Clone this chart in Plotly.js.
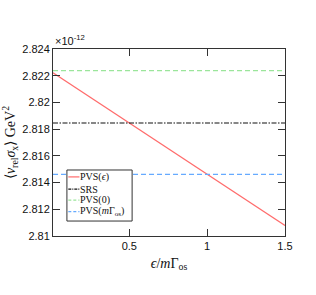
<!DOCTYPE html>
<html>
<head>
<meta charset="utf-8">
<script src="https://cdn.plot.ly/plotly-3.0.1.min.js"></script>
<style>html,body{margin:0;padding:0;background:#fff;}#chart{width:316px;height:295px;}</style>
</head>
<body>
<div id="chart"></div>
<script>
// values in units of 1e-12 GeV^-2 (axis multiplier shown as ×10^-12)
const xPVSeps = [0.01, 0.5, 1.0, 1.5];
const yPVSeps = [2.82222, 2.81846, 2.81462, 2.81078];
const xFlat = [0.01, 1.5];
const ySRS = [2.81846, 2.81846];
const yPVS0 = [2.82238, 2.82238];
const yPVSmG = [2.81462, 2.81462];
const seriesNames = ['PVS(<i>ϵ</i>)', 'SRS', 'PVS(0)', 'PVS(<i>m</i>Γ<sub>os</sub>)'];
const seriesColors = ['#ff6b6b', '#111111', '#9be59b', '#66aaff'];
const seriesDash = ['solid', '5px,1.5px,1.5px,1.5px', '5px,3px', '5px,3px'];
const yTickVals = [2.81, 2.812, 2.814, 2.816, 2.818, 2.82, 2.822, 2.824];
const yTickText = ['2.81', '2.812', '2.814', '2.816', '2.818', '2.82', '2.822', '2.824'];
const xTickVals = [0.5, 1, 1.5];
const xTickText = ['0.5', '1', '1.5'];

const xs = [xPVSeps, xFlat, xFlat, xFlat];
const ys = [yPVSeps, ySRS, yPVS0, yPVSmG];
const traces = ys.map((y, i) => ({
  x: xs[i], y: y, name: seriesNames[i], mode: 'lines',
  line: {color: seriesColors[i], width: 1.2, dash: seriesDash[i]}
}));

const axisCommon = {
  showgrid: false, zeroline: false, showline: true, linecolor: '#333', linewidth: 1,
  mirror: 'ticks', ticks: 'inside', ticklen: 7, tickcolor: '#333', tickwidth: 1,
  tickfont: {family: 'Liberation Sans, Arial, sans-serif', size: 11, color: '#111'}
};

// compact legend (matlab style) built from the series arrays
const legBox = {x0: 0.060, x1: 0.341, y0: 0.080, y1: 0.353};
const legRows = [0.316, 0.251, 0.192, 0.130];
const shapes = [{
  type: 'rect', xref: 'paper', yref: 'paper', x0: legBox.x0, x1: legBox.x1, y0: legBox.y0, y1: legBox.y1,
  line: {color: '#333', width: 1}, fillcolor: '#fff', layer: 'above'
}];
const annotations = [{
  xref: 'paper', yref: 'paper', x: 0, y: 1, xanchor: 'left', yanchor: 'bottom',
  text: '×10<sup>-12</sup>', showarrow: false,
  font: {family: 'Liberation Sans, Arial, sans-serif', size: 11, color: '#111'}
}];
const legDash = ['solid', '3px,1px,1px,1px', '3px,2px', '3px,2px'];
seriesNames.forEach((nm, i) => {
  shapes.push({type: 'line', xref: 'paper', yref: 'paper', x0: 0.066, x1: 0.114, y0: legRows[i], y1: legRows[i],
    line: {color: seriesColors[i], width: 1.2, dash: legDash[i]}, layer: 'above'});
  annotations.push({xref: 'paper', yref: 'paper', x: 0.114, y: legRows[i], xanchor: 'left', yanchor: 'middle',
    text: nm, showarrow: false, xshift: -1,
    font: {family: 'Liberation Serif, Times New Roman, serif', size: 10, color: '#111'}});
});

const layout = {
  width: 316, height: 295,
  margin: {l: 53, r: 31, t: 49, b: 59},
  paper_bgcolor: '#fff', plot_bgcolor: '#fff',
  showlegend: false,
  xaxis: Object.assign({}, axisCommon, {
    range: [0.01, 1.5], tickvals: xTickVals, ticktext: xTickText,
    title: {text: '<i>ϵ</i>/<i>m</i>Γ<sub>os</sub>', font: {family: 'Liberation Serif, Times New Roman, serif', size: 14, color: '#111'}, standoff: 6}
  }),
  yaxis: Object.assign({}, axisCommon, {
    range: [2.81, 2.824], tickvals: yTickVals, ticktext: yTickText,
    title: {text: '⟨<i>v</i><sub>rel</sub><i>σ</i><sub>x</sub>⟩ GeV<sup>2</sup>', font: {family: 'Liberation Serif, Times New Roman, serif', size: 14, color: '#111'}, standoff: 6}
  }),
  shapes: shapes,
  annotations: annotations
};

Plotly.newPlot('chart', traces, layout, {displayModeBar: false, staticPlot: true});
</script>
</body>
</html>
